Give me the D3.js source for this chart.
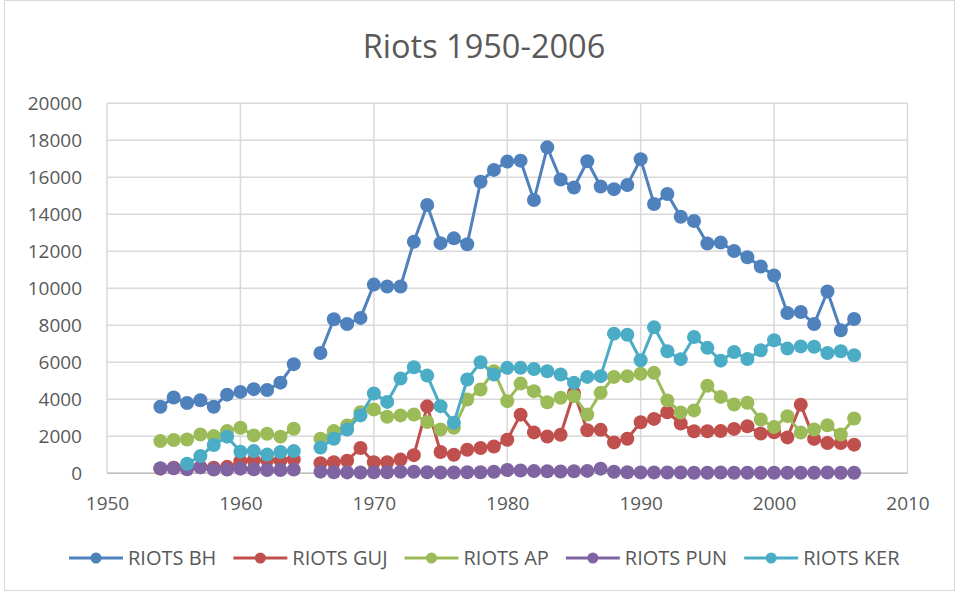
<!DOCTYPE html>
<html>
<head>
<meta charset="utf-8">
<script src="https://cdn.jsdelivr.net/npm/d3@7"></script>
<style>
  body { margin: 0; background: #fff; }
  svg text { font-family: "Open Sans", "Liberation Sans", sans-serif; fill: #595959; }
</style>
</head>
<body>
<svg id="chart" width="961" height="592"></svg>
<script>
// years on the x axis, 1965 has no data (gap in every line)
var years = [1954,1955,1956,1957,1958,1959,1960,1961,1962,1963,1964,1965,
  1966,1967,1968,1969,1970,1971,1972,1973,1974,1975,
  1976,1977,1978,1979,1980,1981,1982,1983,1984,1985,
  1986,1987,1988,1989,1990,1991,1992,1993,1994,1995,
  1996,1997,1998,1999,2000,2001,2002,2003,2004,2005,2006]

var riotsBH = [3600,4100,3800,3950,3600,4250,4400,4550,4500,4900,5900,null,
  6500,8330,8070,8400,10200,10100,10100,12520,14500,12440,
  12700,12380,15760,16400,16850,16900,14770,17620,15880,15450,
  16870,15500,15360,15580,16980,14560,15100,13870,13640,12420,
  12470,12020,11680,11180,10690,8660,8720,8070,9830,7730,8340]

var riotsGUJ = [250,300,300,350,300,350,650,700,700,700,750,null,
  540,600,680,1370,600,600,740,980,3620,1150,
  1000,1270,1370,1450,1810,3170,2210,1990,2080,4350,
  2330,2350,1670,1870,2760,2940,3300,2690,2270,2270,
  2280,2400,2540,2150,2220,1940,3710,1860,1640,1640,1550]

var riotsAP = [1740,1800,1830,2100,2010,2280,2460,2050,2140,1980,2410,null,
  1870,2280,2590,3300,3450,3060,3130,3180,2770,2370,
  2460,3990,4530,5520,3900,4850,4440,3840,4080,4170,
  3180,4350,5210,5250,5380,5430,3940,3290,3400,4730,
  4130,3720,3810,2910,2500,3090,2200,2370,2600,2100,2960]

var riotsPUN = [270,270,220,320,200,200,250,220,180,180,200,null,
  90,60,50,40,60,60,80,80,60,40,
  40,60,60,80,180,150,120,110,100,110,
  130,250,80,60,50,50,40,40,30,30,
  40,30,30,30,30,30,30,30,40,30,30]

var riotsKER = [null,null,520,930,1530,1980,1170,1200,1020,1150,1200,null,
  1390,1870,2370,3130,4310,3860,5120,5730,5280,3630,
  2730,5070,6000,5340,5700,5700,5640,5520,5340,4890,
  5210,5250,7550,7490,6110,7890,6600,6170,7370,6780,
  6090,6560,6180,6650,7190,6740,6860,6840,6500,6600,6380]

var seriesNames = ['RIOTS BH','RIOTS GUJ','RIOTS AP','RIOTS PUN','RIOTS KER']
var seriesColors = ['#4f81bd','#c0504d','#9bbb59','#8064a2','#4bacc6']
var xTicks = [1950,1960,1970,1980,1990,2000,2010]
var yTicks = [0,2000,4000,6000,8000,10000,12000,14000,16000,18000,20000]

var series = [riotsBH,riotsGUJ,riotsAP,riotsPUN,riotsKER].map(function(vals,i){
  return {name:seriesNames[i], color:seriesColors[i],
    points: years.map(function(y,j){ return {year:y, value:vals[j]} })}
})

var svg = d3.select('#chart')
var plotLeft = 107, plotRight = 907.5, plotTop = 103.3, plotBottom = 473.3

// outer chart border
svg.append('rect')
  .attr('x',4.5).attr('y',0.5).attr('width',950).attr('height',590)
  .attr('fill','none').attr('stroke','#d9d9d9')

svg.append('text')
  .attr('x',484).attr('y',58)
  .attr('text-anchor','middle')
  .style('font-size','32.5px')
  .text('Riots 1950-2006')

var x = d3.scaleLinear().domain([1950,2010]).range([plotLeft,plotRight])
var y = d3.scaleLinear().domain([0,20000]).range([plotBottom,plotTop])

// gridlines
var grid = svg.append('g').attr('stroke','#d9d9d9').attr('stroke-width',1.5)
grid.selectAll('line.h').data(yTicks).enter().append('line')
  .attr('class','h')
  .attr('x1',plotLeft).attr('x2',plotRight)
  .attr('y1',function(d){ return y(d) }).attr('y2',function(d){ return y(d) })
grid.selectAll('line.v').data(xTicks).enter().append('line')
  .attr('class','v')
  .attr('y1',plotTop).attr('y2',plotBottom)
  .attr('x1',function(d){ return x(d) }).attr('x2',function(d){ return x(d) })

// axis line at the bottom is slightly darker
svg.append('line')
  .attr('x1',plotLeft).attr('x2',plotRight).attr('y1',plotBottom).attr('y2',plotBottom)
  .attr('stroke','#bfbfbf').attr('stroke-width',1.5)

var yAxis = svg.append('g')
  .attr('transform','translate('+plotLeft+',0)')
  .call(d3.axisLeft(y).tickValues(yTicks).tickSize(0).tickPadding(25).tickFormat(d3.format('d')))
var xAxis = svg.append('g')
  .attr('transform','translate(0,'+plotBottom+')')
  .call(d3.axisBottom(x).tickValues(xTicks).tickSize(0).tickPadding(23).tickFormat(d3.format('d')))
;[yAxis,xAxis].forEach(function(a){
  a.select('.domain').remove()
  a.selectAll('text').attr('fill','#595959').style('font-size','19px')
    .style('font-family','"Open Sans", "Liberation Sans", sans-serif')
})

var line = d3.line()
  .defined(function(d){ return d.value != null })
  .x(function(d){ return x(d.year) })
  .y(function(d){ return y(d.value) })

// each series: line then markers, later series drawn on top
series.forEach(function(s){
  var g = svg.append('g')
  g.append('path')
    .attr('d',line(s.points))
    .attr('fill','none')
    .attr('stroke',s.color)
    .attr('stroke-width',3)
    .attr('stroke-linejoin','round')
  g.selectAll('circle')
    .data(s.points.filter(function(d){ return d.value != null }))
    .enter().append('circle')
    .attr('cx',function(d){ return x(d.year) })
    .attr('cy',function(d){ return y(d.value) })
    .attr('r',7)
    .attr('fill',s.color)
})

// legend
var legend = svg.append('g')
var lx = 69, ly = 558
series.forEach(function(s){
  var item = legend.append('g').attr('transform','translate('+lx+','+ly+')')
  item.append('line').attr('x1',0).attr('x2',54).attr('stroke',s.color).attr('stroke-width',3)
  item.append('circle').attr('cx',27).attr('r',5.5).attr('fill',s.color)
  var t = item.append('text')
    .attr('x',59).attr('dy','0.35em')
    .style('font-size','20px')
    .text(s.name)
  lx += 59 + t.node().getComputedTextLength() + 17
})
</script>
</body>
</html>
